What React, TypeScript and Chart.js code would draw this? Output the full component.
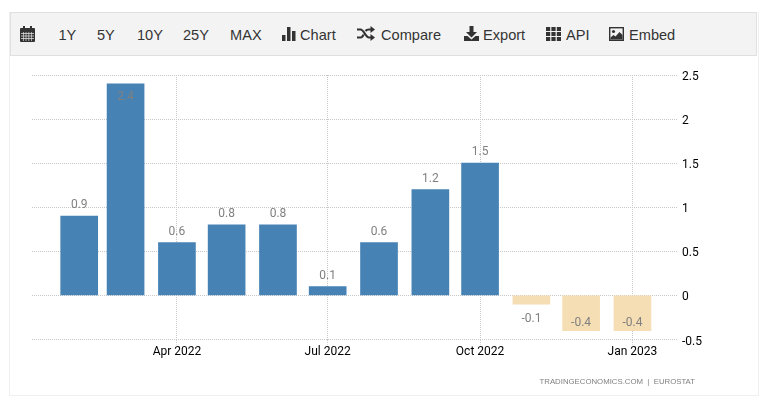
import React, { useEffect, useRef } from "react";
import { Chart, registerables } from "chart.js";

Chart.register(...registerables);

const months = ["2022-02-01","2022-03-01","2022-04-01","2022-05-01","2022-06-01","2022-07-01","2022-08-01","2022-09-01","2022-10-01","2022-11-01","2022-12-01","2023-01-01"];
const values = [0.9, 2.4, 0.6, 0.8, 0.8, 0.1, 0.6, 1.2, 1.5, -0.1, -0.4, -0.4];
const tickDates = ["2022-04-01", "2022-07-01", "2022-10-01", "2023-01-01"];
const tickLabels = ["Apr 2022", "Jul 2022", "Oct 2022", "Jan 2023"];
const yTicks = [-0.5, 0, 0.5, 1, 1.5, 2, 2.5];
const xRange = ["2022-01-03", "2023-01-28"];
const sourceText = "TRADINGECONOMICS.COM  |  EUROSTAT";

const POS = "#4682b4";
const NEG = "#f5deb3";
const FONT = "Roboto";
const HALF_DAY = 43200000;
const ts = (s: string) => new Date(s + "T00:00:00Z").getTime();

const valueLabels = {
  id: "valueLabels",
  afterDatasetsDraw(chart: any) {
    const { ctx, chartArea } = chart;
    const meta = chart.getDatasetMeta(0);
    ctx.save();
    ctx.font = `12px ${FONT}`;
    ctx.fillStyle = "#808080";
    ctx.textAlign = "center";
    ctx.textBaseline = "middle";
    meta.data.forEach((bar: any, i: number) => {
      const v = values[i];
      let y = v >= 0 ? bar.y - 11 : bar.y + 15;
      if (y - 7 < chartArea.top) y = bar.y + 13;
      if (y + 7 > chartArea.bottom - 3) y = bar.y - 8;
      ctx.fillText(v.toFixed(1), bar.x, y);
    });
    ctx.restore();
  },
};

function Icon({ name, left, w }: { name: string; left: number; w: number }) {
  const c = "#333";
  let body: React.ReactNode = null;
  if (name === "calendar") {
    body = (
      <>
        <rect x="0" y="2" width="15" height="14" rx="1" fill={c} />
        <rect x="3" y="0" width="2" height="3" fill={c} />
        <rect x="10" y="0" width="2" height="3" fill={c} />
        <path d="M1 7.5h13M1 10h13M1 12.5h13" stroke="#ddd" strokeWidth="0.8" />
        <path d="M3.5 6v9M6 6v9M8.8 6v9M11.5 6v9" stroke="#ddd" strokeWidth="0.7" />
      </>
    );
  } else if (name === "chart") {
    body = (
      <>
        <rect x="0" y="9" width="3.5" height="6" fill={c} />
        <rect x="5" y="1" width="3.5" height="14" fill={c} />
        <rect x="10" y="5" width="3.5" height="10" fill={c} />
      </>
    );
  } else if (name === "shuffle") {
    body = (
      <>
        <path d="M0 3.5h3.5c3.5 0 5 8 8.5 8h2M0 11.5h3.5c1.5 0 2.5-1.5 3-3M8.5 5c.7-1 1.8-1.5 3.5-1.5h2" fill="none" stroke={c} strokeWidth="2.2" />
        <path d="M13.5 0l4.5 3.5-4.5 3.5zM13.5 8l4.5 3.5-4.5 3.5z" fill={c} />
      </>
    );
  } else if (name === "export") {
    body = (
      <>
        <path d="M5.5 0h4v6h3.5l-5.5 5.5L2 6h3.5z" fill={c} />
        <path d="M0 10h3.5l4 3.5 4-3.5H15v5H0z" fill={c} />
      </>
    );
  } else if (name === "grid") {
    body = [0, 5.4, 10.8].flatMap((x) =>
      [1, 6, 11].map((y) => <rect key={`${x}-${y}`} x={x} y={y} width="4.2" height="4" fill={c} />)
    );
  } else if (name === "image") {
    body = (
      <>
        <rect x="0.7" y="1.7" width="13.6" height="12.6" fill="none" stroke={c} strokeWidth="1.4" />
        <circle cx="4.5" cy="5.5" r="1.6" fill={c} />
        <path d="M1.5 13.5v-2l3-2.5 2 1.5 4-4.5 3 3v4.5z" fill={c} />
      </>
    );
  }
  return (
    <svg width={w} height={16} style={{ position: "absolute", left, top: 26 }} viewBox={`0 0 ${w} 16`}>
      {body}
    </svg>
  );
}

const toolbarTexts: [string, number][] = [
  ["1Y", 58.5], ["5Y", 97], ["10Y", 137], ["25Y", 183], ["MAX", 230],
  ["Chart", 300], ["Compare", 381], ["Export", 483], ["API", 566], ["Embed", 629],
];

export default function App() {
  const ref = useRef<HTMLCanvasElement>(null);
  useEffect(() => {
    const chart = new Chart(ref.current!, {
      type: "bar",
      data: {
        datasets: [
          {
            data: months.map((m, i) => ({ x: ts(m), y: values[i] })),
            backgroundColor: values.map((v) => (v >= 0 ? POS : NEG)),
            barThickness: 37,
            borderWidth: 0,
          },
        ],
      },
      options: {
        animation: false,
        responsive: false,
        devicePixelRatio: 1,
        layout: { padding: { left: 32, top: 75, right: 0, bottom: 0 } },
        plugins: { legend: { display: false }, tooltip: { enabled: false } },
        scales: {
          x: {
            type: "linear",
            min: ts(xRange[0]) + HALF_DAY,
            max: ts(xRange[1]) + HALF_DAY,
            offset: false,
            afterBuildTicks(s: any) {
              s.ticks = tickDates.map((d) => ({ value: ts(d) }));
            },
            afterFit(s: any) {
              s.height = 68.5;
            },
            grid: {
              color: "#c8c8c8",
              lineWidth: 1,
              tickLength: 5,
              offset: false,
              tickBorderDash: [1, 1],
            },
            border: { display: false, dash: [1, 1] },
            ticks: {
              autoSkip: false,
              maxRotation: 0,
              padding: 0,
              color: "#000",
              font: { family: FONT, size: 12 },
              callback: (v: any) => tickLabels[tickDates.findIndex((d) => ts(d) === v)] ?? "",
            },
          },
          y: {
            position: "right",
            min: -0.5,
            max: 2.5,
            afterBuildTicks(s: any) {
              s.ticks = yTicks.map((value) => ({ value }));
            },
            afterFit(s: any) {
              s.width = 87;
            },
            grid: { color: "#c8c8c8", lineWidth: 1, drawTicks: false },
            border: { display: false, dash: [1, 1] },
            ticks: {
              padding: 4,
              labelOffset: 2,
              color: "#000",
              font: { family: FONT, size: 12 },
              callback: (v: any) => String(v),
            },
          },
        },
      },
      plugins: [valueLabels],
    } as any);
    return () => chart.destroy();
  }, []);

  return (
    <div style={{ position: "absolute", left: 0, top: 0, width: 765, height: 408, overflow: "hidden", background: "#fff" }}>
      <canvas ref={ref} width={765} height={408} style={{ position: "absolute", left: 0, top: 0 }} />
      <div style={{ position: "absolute", left: 9, top: 12, width: 748, height: 383, border: "1px solid #f0f0f0", borderTop: "none", pointerEvents: "none" }} />
      <div style={{ position: "absolute", left: 10, top: 12, width: 745, height: 42, background: "#f3f3f3", border: "1.5px solid #e0e0e0" }} />
      <Icon name="calendar" left={20} w={15} />
      <Icon name="chart" left={282} w={14} />
      <Icon name="shuffle" left={357} w={18} />
      <Icon name="export" left={464} w={15} />
      <Icon name="grid" left={546} w={15} />
      <Icon name="image" left={609} w={15} />
      {toolbarTexts.map(([t, left]) => (
        <div key={t} style={{ position: "absolute", left, top: 26, font: "14.6px/18px 'Liberation Sans', Arial, sans-serif", color: "#333", whiteSpace: "pre" }}>
          {t}
        </div>
      ))}
      <div style={{ position: "absolute", right: 70, top: 376, font: "7.8px/12px 'Liberation Sans', Arial, sans-serif", color: "#808080", whiteSpace: "pre" }}>
        {sourceText}
      </div>
    </div>
  );
}
